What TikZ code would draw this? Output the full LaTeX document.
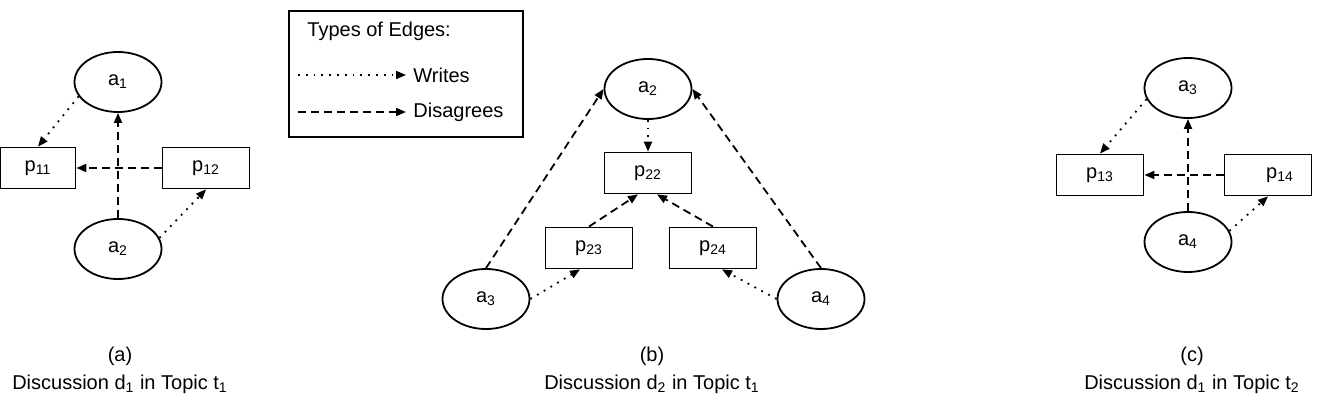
\documentclass[tikz,border=0pt]{standalone}
\usepackage{fontspec}
\setmainfont{Liberation Sans}
\usetikzlibrary{arrows.meta,shapes.geometric}
\begin{document}
\begin{tikzpicture}[x=0.5pt,y=-0.5pt,
  basefont/.style={font=\fontsize{10}{12}\selectfont},
  actor/.style={ellipse,draw,line width=0.9pt,minimum width=43.5pt,minimum height=30pt,inner sep=0pt,basefont},
  post/.style={rectangle,draw,line width=0.9pt,minimum width=43.5pt,minimum height=20.5pt,inner sep=0pt,basefont},
  tip/.style={-{Triangle[length=5pt,width=4pt]}},
  wri/.style={line width=0.9pt,dash pattern=on 0.9pt off 3pt,tip},
  dis/.style={line width=0.9pt,dash pattern=on 4pt off 2.5pt,tip},
  txt/.style={basefont,inner sep=0pt}]
\useasboundingbox (0,0) rectangle (1323,401);

% ---------- panel (a)
\node[actor] (a1a) at (118,82) {a\textsubscript{1}};
\node[actor] (a2a) at (118,249) {a\textsubscript{2}};
\node[post,minimum width=37.5pt] (p11a) at (38,168) {p\textsubscript{11}};
\node[post] (p12a) at (206,168) {p\textsubscript{12}};
\draw[dis] (a2a) -- (a1a);
\draw[dis] (p12a) -- (p11a);
\draw[wri] (a1a.200) -- (p11a.north);
\draw[wri] (a2a.15) -- (p12a.south);
\node[txt] (capa1) at (120,356) {(a)};
\node[txt] (capa2) at (120,384) {Discussion d\textsubscript{1} in Topic t\textsubscript{1}};

% ---------- legend
\node[draw,line width=0.9pt,minimum width=117pt,minimum height=63pt,inner sep=0pt] (leg) at (406,74) {};
\node[txt,anchor=west] (legT) at (307,31) {Types of Edges:};
\coordinate (w1) at (298,75);
\coordinate (w2) at (406,75);
\coordinate (d1) at (298,112);
\coordinate (d2) at (406,112);
\draw[wri] (w1) -- (w2);
\draw[dis] (d1) -- (d2);
\node[txt,anchor=west] (legW) at (413,75) {Writes};
\node[txt,anchor=west] (legD) at (413,112) {Disagrees};

% ---------- panel (b)
\node[actor] (a2b) at (648,89) {a\textsubscript{2}};
\node[post] (p22b) at (648,173) {p\textsubscript{22}};
\node[post] (p23b) at (589,248) {p\textsubscript{23}};
\node[post] (p24b) at (713,248) {p\textsubscript{24}};
\node[actor] (a3b) at (486,299) {a\textsubscript{3}};
\node[actor] (a4b) at (821,299) {a\textsubscript{4}};
\draw[dis] (a3b.north) -- (a2b.west);
\draw[dis] (a4b.north) -- (a2b.east);
\draw[wri] (a2b.south) -- (p22b.north);
\draw[dis] (p23b.north) -- ([xshift=-5pt]p22b.south);
\draw[dis] (p24b.north) -- ([xshift=4.5pt]p22b.south);
\draw[wri] (a3b.east) -- ([xshift=-4.5pt]p23b.south);
\draw[wri] (a4b.west) -- ([xshift=4.5pt]p24b.south);
\node[txt] (capb1) at (652,356) {(b)};
\node[txt] (capb2) at (652,384) {Discussion d\textsubscript{2} in Topic t\textsubscript{1}};

% ---------- panel (c)
\node[actor] (a3c) at (1188,88) {a\textsubscript{3}};
\node[actor] (a4c) at (1188,242) {a\textsubscript{4}};
\node[post] (p13c) at (1100,175) {p\textsubscript{13}};
\node[post] (p14c) at (1268,175) {\hspace*{12pt}p\textsubscript{14}};
\draw[dis] (a4c) -- (a3c);
\draw[dis] (p14c) -- (p13c);
\draw[wri] (a3c.195) -- (p13c.north);
\draw[wri] (a4c.15) -- (p14c.south);
\node[txt] (capc1) at (1192,356) {(c)};
\node[txt] (capc2) at (1192,384) {Discussion d\textsubscript{1} in Topic t\textsubscript{2}};
\end{tikzpicture}
\end{document}
